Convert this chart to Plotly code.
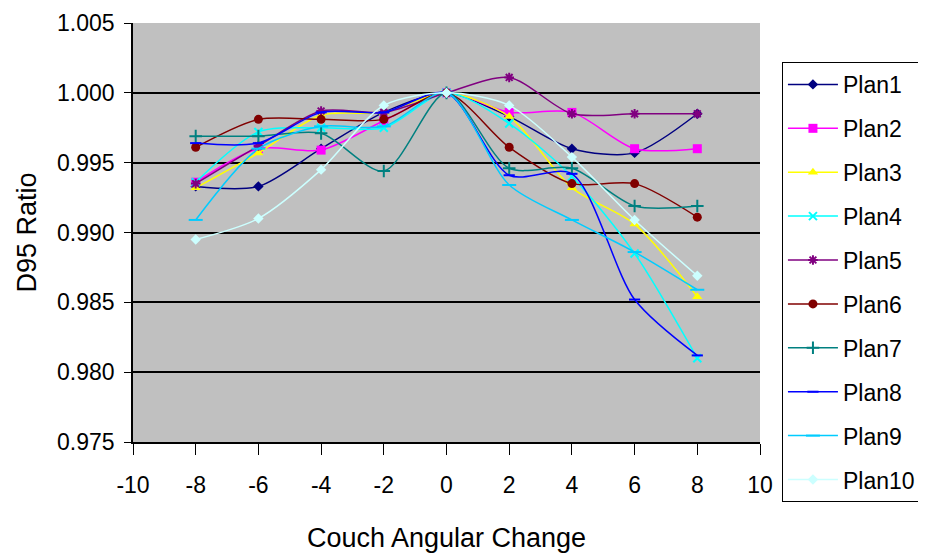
import plotly.graph_objects as go

angles = [-8, -6, -4, -2, 0, 2, 4, 6, 8]
plan_names = ["Plan1", "Plan2", "Plan3", "Plan4", "Plan5", "Plan6", "Plan7", "Plan8", "Plan9", "Plan10"]

plan1 = [0.9933, 0.9933, 0.9960, 0.9986, 1.0000, 0.9983, 0.9960, 0.9957, 0.9985]
plan2 = [0.9936, 0.9960, 0.9959, 0.9980, 1.0000, 0.9986, 0.9986, 0.9960, 0.9960]
plan3 = [0.9932, 0.9957, 0.9984, 0.9986, 1.0000, 0.9983, 0.9932, 0.9906, 0.9854]
plan4 = [0.9936, 0.9972, 0.9975, 0.9975, 1.0000, 0.9978, 0.9940, 0.9885, 0.9810]
plan5 = [0.9935, 0.9962, 0.9987, 0.9986, 1.0000, 1.0011, 0.9985, 0.9985, 0.9985]
plan6 = [0.9961, 0.9981, 0.9981, 0.9981, 1.0000, 0.9961, 0.9935, 0.9935, 0.9911]
plan7 = [0.9969, 0.9969, 0.9971, 0.9944, 1.0000, 0.9946, 0.9946, 0.9919, 0.9919]
plan8 = [0.9964, 0.9964, 0.9986, 0.9986, 1.0000, 0.9941, 0.9942, 0.9852, 0.9812]
plan9 = [0.9909, 0.9960, 0.9976, 0.9976, 1.0000, 0.9934, 0.9909, 0.9886, 0.9859]
plan10 = [0.9895, 0.9910, 0.9945, 0.9991, 1.0000, 0.9991, 0.9954, 0.9909, 0.9869]

x_ticks = [-10, -8, -6, -4, -2, 0, 2, 4, 6, 8, 10]
x_tick_labels = ["-10", "-8", "-6", "-4", "-2", "0", "2", "4", "6", "8", "10"]
y_ticks = [0.975, 0.980, 0.985, 0.990, 0.995, 1.000, 1.005]
y_tick_labels = ["0.975", "0.980", "0.985", "0.990", "0.995", "1.000", "1.005"]

series = [plan1, plan2, plan3, plan4, plan5, plan6, plan7, plan8, plan9, plan10]
colors = ["#000080", "#FF00FF", "#FFFF00", "#00FFFF", "#800080",
          "#800000", "#008080", "#0000FF", "#00CCFF", "#CCFFFF"]
symbols = ["diamond", "square", "triangle-up", "x-thin", "asterisk",
           "circle", "cross-thin", "line-ew", "line-ew", "diamond"]
sizes = [8, 9, 9, 8, 8, 9, 9, 8, 10, 8]

fig = go.Figure()
for name, vals, c, s, sz in zip(plan_names, series, colors, symbols, sizes):
    open_sym = s in ("x-thin", "asterisk", "cross-thin", "line-ew")
    fig.add_trace(go.Scatter(
        x=angles, y=vals, name=name, mode="lines+markers",
        legendgroup=name,
        line=dict(color=c, width=1.5, shape="spline", smoothing=0.8),
        marker=dict(symbol=s, size=sz, color=c,
                    line=dict(color=c, width=2 if open_sym else 0)),
    ))

fig.update_layout(
    width=926, height=554,
    paper_bgcolor="white", plot_bgcolor="#C0C0C0",
    margin=dict(l=125, r=174, t=15, b=120),
    font=dict(family="Liberation Sans, Arial, sans-serif", color="black", size=23),
    showlegend=True,
    legend=dict(
        x=1.035, xanchor="left", y=0.907, yanchor="top",
        bgcolor="white", bordercolor="black", borderwidth=1,
        font=dict(size=23), tracegroupgap=11, itemwidth=50,
        maxheight=540,
    ),
)
fig.update_xaxes(
    range=[-10, 10], tickvals=x_ticks, ticktext=x_tick_labels,
    showgrid=False, zeroline=False, automargin=False,
    showline=True, linecolor="black", linewidth=1.5,
    ticks="outside", ticklen=11, tickcolor="black", ticklabelstandoff=11,
    tickfont=dict(size=23),
    title=dict(text="Couch Angular Change", font=dict(size=27), standoff=31),
)
fig.update_yaxes(
    range=[0.975, 1.005], tickvals=y_ticks, ticktext=y_tick_labels,
    showgrid=True, gridcolor="black", gridwidth=1.5, zeroline=False, automargin=False,
    showline=True, linecolor="black", linewidth=1.5,
    ticks="outside", ticklen=7, tickcolor="black", ticklabelstandoff=5,
    tickfont=dict(size=23),
    title=dict(text="D95 Ratio", font=dict(size=27), standoff=13),
)

fig.write_html("out.html")
